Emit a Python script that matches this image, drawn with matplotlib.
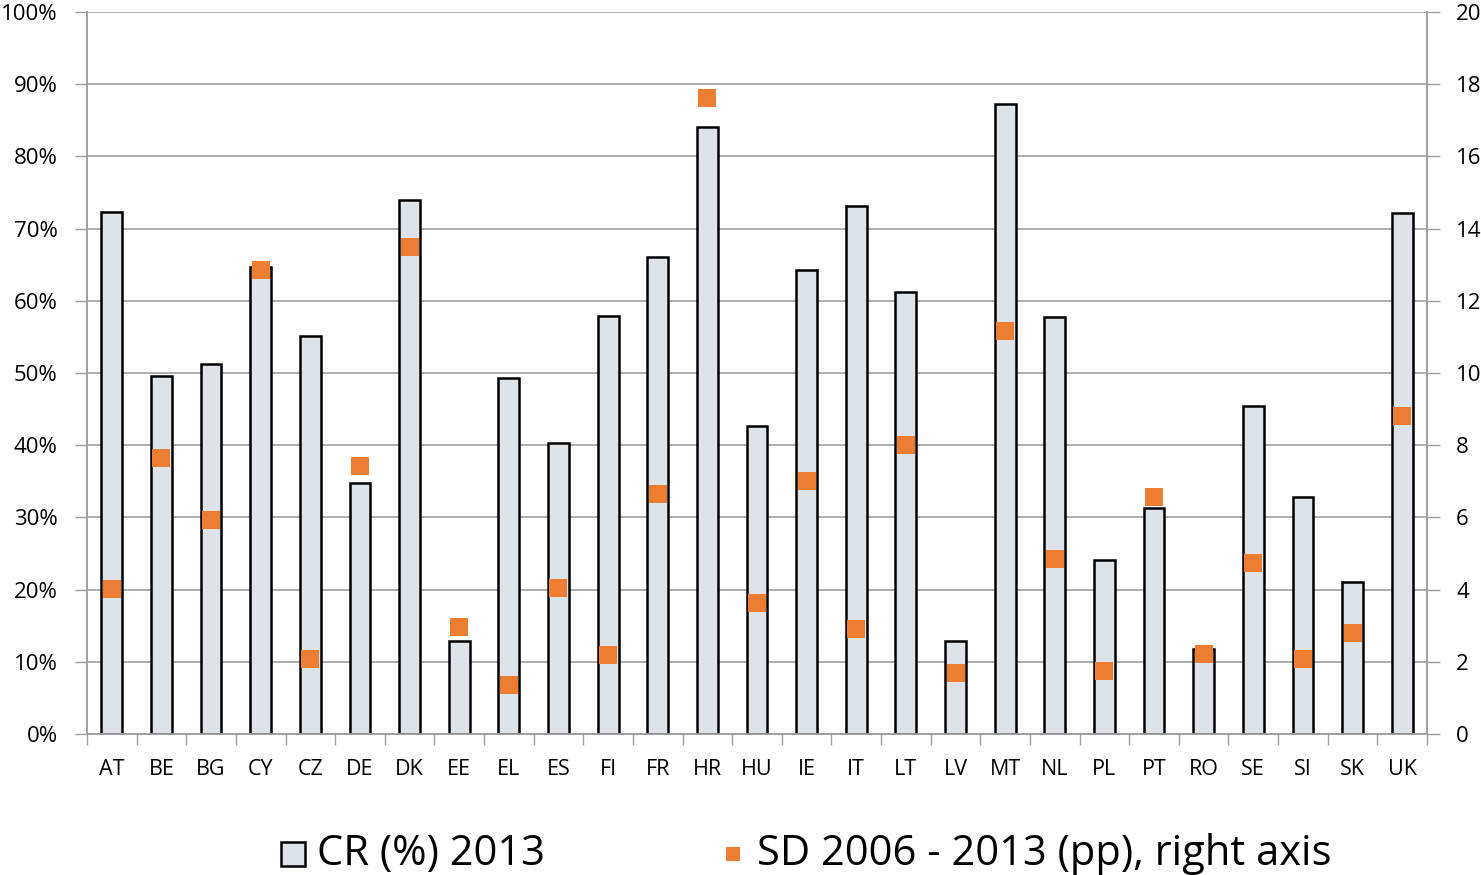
import numpy as np
import matplotlib.pyplot as plt
from matplotlib.ticker import FuncFormatter

# country codes
paises = ['AT', 'BE', 'BG', 'CY', 'CZ', 'DE', 'DK', 'EE', 'EL', 'ES', 'FI', 'FR', 'HR', 'HU',
          'IE', 'IT', 'LT', 'LV', 'MT', 'NL', 'PL', 'PT', 'RO', 'SE', 'SI', 'SK', 'UK']

# CR (%) 2013, left axis
cr_2013 = [72.3, 49.6, 51.2, 64.7, 55.1, 34.8, 74.0, 12.9, 49.3, 40.3, 57.9, 66.1, 84.1, 42.7,
           64.3, 73.1, 61.2, 12.9, 87.3, 57.8, 24.1, 31.3, 11.8, 45.4, 32.8, 21.1, 72.2]

# SD 2006 - 2013 (pp), right axis
sd_pp = [4.02, 7.65, 5.93, 12.85, 2.08, 7.42, 13.49, 2.96, 1.36, 4.04, 2.19, 6.65, 17.62, 3.63,
         7.01, 2.91, 8.0, 1.69, 11.16, 4.85, 1.75, 6.57, 2.22, 4.74, 2.08, 2.80, 8.81]

plt.rcParams['font.family'] = ['Open Sans', 'DejaVu Sans']

W, H = 1481, 875
fig = plt.figure(figsize=(W / 100, H / 100), dpi=100)
ax = fig.add_axes([87 / W, 1 - 734 / H, (1427 - 87) / W, (734 - 12) / H])
ax2 = ax.twinx()

x = np.arange(len(paises))
ax.bar(x, cr_2013, width=0.42, color='#DEE2E9', edgecolor='black', linewidth=1.8, zorder=3)
ax2.scatter(x, sd_pp, marker='s', s=150, color='#ED7D31', linewidths=0, zorder=4)

ax.set_xlim(-0.5, len(paises) - 0.5)
ax.set_ylim(0, 100)
ax2.set_ylim(0, 20)
ax.set_yticks(np.arange(0, 101, 10))
ax2.set_yticks(np.arange(0, 21, 2))
ax.yaxis.set_major_formatter(FuncFormatter(lambda v, p: f'{v:.0f}%'))

# labels centred on the bars, tick marks between categories
ax.set_xticks(x)
ax.set_xticklabels(paises)
ax.set_xticks(np.arange(-0.5, len(paises), 1), minor=True)
ax.tick_params(axis='x', which='major', length=0, pad=18, labelsize=15.5)
ax.tick_params(axis='x', which='minor', length=8, color='#A0A0A0', width=1)
ax.tick_params(axis='y', length=9, color='#A0A0A0', width=1, labelsize=16, pad=12)
ax2.tick_params(axis='y', length=9, color='#A0A0A0', width=1, labelsize=16, pad=12)

ax.grid(axis='y', color='#A0A0A0', linewidth=1.2, zorder=0)
ax.set_axisbelow(True)
for a in (ax, ax2):
    a.spines['top'].set_visible(False)
    for s in ('left', 'right', 'bottom'):
        a.spines[s].set_color('#A0A0A0')
        a.spines[s].set_linewidth(1.2)

# legend drawn by hand along the bottom edge
fig.patches.append(plt.Rectangle((281 / W, (H - 866) / H), 24 / W, 24 / H,
                                 transform=fig.transFigure, facecolor='#DEE2E9',
                                 edgecolor='black', linewidth=1.8))
fig.text(317 / W, (H - 865) / H, 'CR (%) 2013', fontsize=30, ha='left', va='baseline')
fig.patches.append(plt.Rectangle((726 / W, (H - 861) / H), 14 / W, 14 / H,
                                 transform=fig.transFigure, facecolor='#ED7D31',
                                 edgecolor='none'))
fig.text(757 / W, (H - 865) / H, 'SD 2006 - 2013 (pp), right axis', fontsize=30,
         ha='left', va='baseline')

fig.savefig('out.png', dpi=100)
